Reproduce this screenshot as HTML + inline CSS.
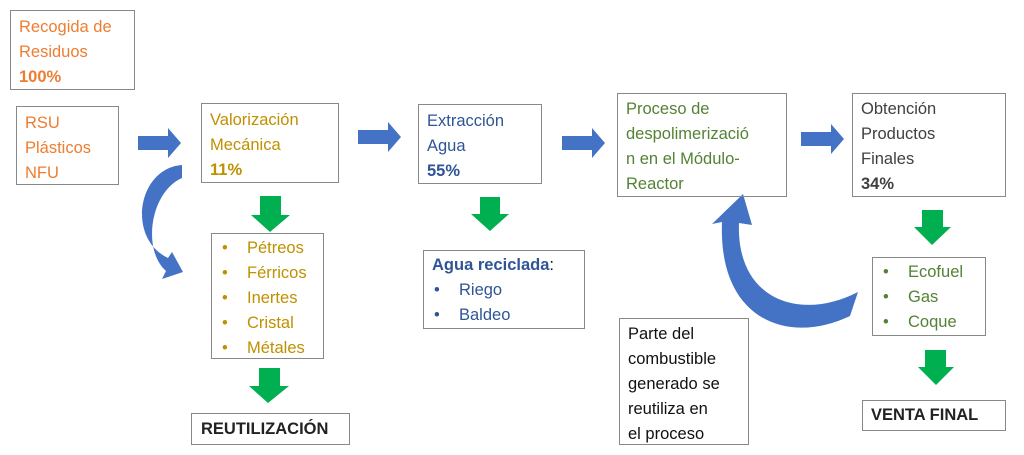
<!DOCTYPE html><html><head><style>
body{margin:0;width:1024px;height:455px;background:#fff;position:relative;overflow:hidden;font-family:"Liberation Sans",sans-serif;font-size:16.5px;line-height:25px}
.b{position:absolute;border:1.5px solid #888;box-sizing:border-box;padding:4px 0 0 8px}
.o{color:#ed7d31}.g{color:#bf9000}.bl{color:#2f5597}.gr{color:#548235}.d{color:#404040}.k{color:#111}
b{font-weight:bold}
ul{margin:0;padding:0;list-style:none}
li span{display:inline-block;width:25px;padding-left:2px}
svg{position:absolute;left:0;top:0}
</style></head><body>
<svg width="1024" height="455">
<g fill="#4472c4">
<polygon points="138,136 168,136 168,128 181,143 168,158 168,150 138,150"/>
<polygon points="358,130 388,130 388,122 401,137 388,152 388,144 358,144"/>
<polygon points="562,136 592,136 592,128 605,143 592,158 592,150 562,150"/>
<polygon points="801,132 831,132 831,124 844,139 831,154 831,146 801,146"/>
<path d="M182,165 C138,168 126,238 168,258 L172,252 L183,272 L162,279 L166,271 C142,250 150,192 182,178 Z"/>
<path d="M850,316 C790,345 718,322 722,222 L712,224 L743,194 L752,225 L739,223 C736,300 800,322 858,292 Z"/>
</g>
<g fill="#00b050">
<polygon points="260,196 281,196 281,215 290,215 270,232 251,215 260,215"/>
<polygon points="259,368 280,368 280,386 289,386 268,403 249,386 259,386"/>
<polygon points="480,197 500,197 500,214 509,214 490,231 471,214 480,214"/>
<polygon points="922,210 943,210 943,227 951,227 932,245 914,227 922,227"/>
<polygon points="925,350 946,350 946,367 954,367 936,385 918,367 925,367"/>
</g>
</svg>
<div class="b o" style="left:10px;top:10px;width:125px;height:80px">Recogida de<br>Residuos<br><b>100%</b></div>
<div class="b o" style="left:16px;top:106px;width:103px;height:79px;padding-left:8px">RSU<br>Plásticos<br>NFU</div>
<div class="b g" style="left:201px;top:103px;width:138px;height:80px">Valorización<br>Mecánica<br><b>11%</b></div>
<div class="b bl" style="left:418px;top:104px;width:124px;height:80px">Extracción<br>Agua<br><b>55%</b></div>
<div class="b gr" style="left:617px;top:93px;width:170px;height:104px;padding-top:3px">Proceso de<br>despolimerizació<br>n en el Módulo-<br>Reactor</div>
<div class="b d" style="left:852px;top:93px;width:154px;height:104px;padding-top:3px">Obtención<br>Productos<br>Finales<br><b>34%</b></div>
<div class="b g" style="left:211px;top:233px;width:113px;height:126px;padding-top:2px"><ul><li><span>•</span>Pétreos</li><li><span>•</span>Férricos</li><li><span>•</span>Inertes</li><li><span>•</span>Cristal</li><li><span>•</span>Métales</li></ul></div>
<div class="b k" style="left:191px;top:413px;width:159px;height:32px;padding:3px 0 0 9px;color:#222"><b>REUTILIZACIÓN</b></div>
<div class="b bl" style="left:423px;top:250px;width:162px;height:79px;padding-top:2px"><b>Agua reciclada</b><span style="color:#111">:</span><ul><li><span>•</span>Riego</li><li><span>•</span>Baldeo</li></ul></div>
<div class="b gr" style="left:872px;top:257px;width:114px;height:79px;padding-top:2px"><ul><li><span>•</span>Ecofuel</li><li><span>•</span>Gas</li><li><span>•</span>Coque</li></ul></div>
<div class="b k" style="left:619px;top:318px;width:130px;height:127px;padding-top:3px">Parte del<br>combustible<br>generado se<br>reutiliza en<br>el proceso</div>
<div class="b k" style="left:862px;top:400px;width:144px;height:31px;padding:2px 0 0 8px;color:#222"><b>VENTA FINAL</b></div>
</body></html>
